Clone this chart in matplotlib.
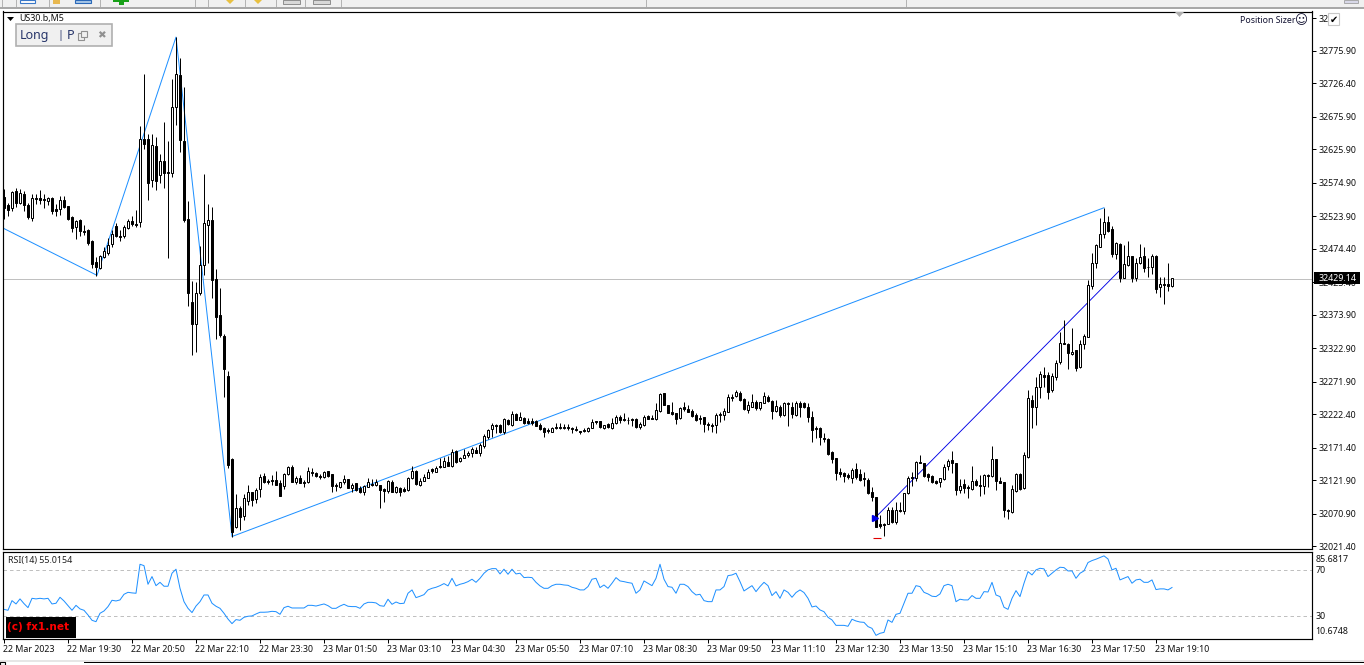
import numpy as np
import matplotlib
matplotlib.use("Agg")
import matplotlib.pyplot as plt
from matplotlib.patches import Rectangle, Polygon
from matplotlib.transforms import ScaledTranslation

# US30.b M5 candles, points above 32000
base = 32000
opens = [553,541,537,562,544,558,541,521,552,552,
         550,547,552,535,535,549,540,523,508,518,
         502,503,486,454,445,462,468,482,509,494,
         494,506,517,512,515,642,642,579,631,587,
         608,591,590,691,739,639,520,393,360,407,
         450,511,518,428,374,342,281,154,50,79,
         67,90,104,93,108,128,121,122,122,117,
         113,131,142,119,125,119,119,134,133,128,
         127,136,131,114,111,119,124,110,117,110,
         104,111,116,114,114,108,105,119,104,110,
         108,107,125,136,114,121,125,139,134,143,
         142,150,143,166,151,156,160,163,168,163,
         174,188,200,206,206,195,214,206,223,214,
         217,212,212,212,206,201,198,195,203,203,
         203,203,201,200,197,198,197,201,212,212,
         201,207,201,209,218,215,214,215,215,203,
         206,220,217,215,227,255,236,226,224,217,
         233,230,227,221,217,218,207,206,206,221,
         221,226,249,250,255,246,229,233,241,232,
         239,249,242,227,233,221,239,233,221,239,
         239,233,218,201,201,186,185,165,156,134,
         133,130,125,139,131,125,122,104,96,55,
         55,55,76,58,76,75,102,127,125,150,
         148,131,128,121,119,124,143,153,148,107,
         116,111,108,121,114,113,130,128,154,121,
         119,76,73,105,131,110,157,244,233,264,
         282,282,259,279,302,331,329,314,320,294,
         329,340,418,453,477,497,515,505,467,482,
         430,450,463,430,453,463,447,447,463,416,
         421,421,418]
highs = [566,544,562,567,566,562,544,558,558,564,
         558,553,553,543,555,555,540,524,518,520,
         511,505,488,462,465,477,491,503,514,503,
         511,520,524,534,662,741,649,649,645,619,
         668,639,733,797,765,721,547,425,424,479,
         588,543,538,444,415,345,288,156,101,82,
         101,114,104,110,131,133,124,130,136,122,
         133,143,145,128,130,122,142,140,134,131,
         136,136,131,117,119,130,124,117,117,113,
         114,125,124,124,114,110,122,122,113,111,
         111,127,143,137,125,131,139,140,143,156,
         157,159,169,168,157,169,166,172,172,178,
         192,200,209,207,207,217,215,227,224,226,
         218,217,217,214,209,203,201,203,209,209,
         207,207,203,204,197,201,203,215,212,212,
         206,209,217,221,221,224,218,217,217,210,
         221,221,221,239,255,255,236,241,224,233,
         241,236,230,224,221,218,210,209,224,226,
         232,253,253,259,258,247,242,253,244,241,
         256,252,244,244,236,241,241,241,242,242,
         241,239,227,204,203,194,186,166,156,140,
         134,133,140,148,139,134,125,111,96,69,
         57,81,81,88,88,102,128,134,151,160,
         148,133,130,122,125,146,154,166,148,124,
         124,114,143,124,130,131,131,174,154,127,
         119,78,114,133,133,165,259,252,279,288,
         294,287,285,305,348,366,331,354,320,335,
         345,427,468,482,521,537,524,509,485,483,
         480,486,463,460,482,477,460,467,465,431,
         431,453,430]
lows = [520,524,532,538,543,532,520,517,543,543,
        537,541,527,524,526,537,518,500,489,494,
        495,480,445,433,444,460,465,477,492,486,
        491,505,509,508,508,627,549,569,564,575,
        567,460,584,663,622,515,387,313,317,404,
        434,453,399,337,340,249,140,35,49,46,
        61,84,82,87,96,117,116,114,114,98,
        108,130,119,116,117,111,117,128,127,124,
        125,127,104,105,110,116,110,104,105,102,
        99,111,113,113,79,88,102,104,102,98,
        104,105,124,114,113,121,125,133,134,140,
        142,143,142,148,150,156,157,157,163,159,
        171,185,188,194,194,192,206,204,214,214,
        207,207,206,204,198,188,194,195,200,200,
        200,198,194,197,192,195,195,201,207,201,
        200,201,200,207,209,212,207,204,201,200,
        204,215,215,214,226,236,224,221,207,215,
        227,226,218,212,207,195,198,195,194,210,
        214,226,242,249,242,229,224,233,229,229,
        239,241,215,226,218,220,204,217,220,218,
        232,210,180,186,175,180,160,148,122,127,
        119,124,117,124,121,113,101,90,50,49,
        37,55,57,55,73,70,101,113,121,148,
        127,121,117,116,111,122,137,133,99,102,
        102,95,107,113,98,101,111,127,107,117,
        66,63,72,104,107,108,156,201,206,247,
        264,246,256,275,299,329,291,313,288,293,
        322,340,413,445,477,491,500,462,459,424,
        430,448,424,425,451,439,431,436,407,401,
        390,410,416]
closes = [537,534,561,544,559,541,523,552,550,549,
          549,552,532,532,549,538,520,506,517,502,
          500,483,451,447,463,471,480,497,494,492,
          508,517,512,511,642,634,575,633,578,608,
          590,590,691,741,640,518,407,360,407,450,
          514,518,427,371,343,291,145,43,79,66,
          95,104,92,107,127,119,119,121,114,98,
          131,142,119,125,117,118,136,133,128,127,
          134,128,113,113,119,124,110,114,107,104,
          113,119,114,119,107,105,121,104,111,104,
          105,125,136,116,121,127,134,136,140,142,
          151,143,165,150,156,160,163,169,163,175,
          189,198,206,204,195,215,207,223,214,218,
          209,209,209,204,200,195,197,201,201,201,
          201,202,200,198,196,197,201,210,210,203,
          206,203,209,218,214,214,213,214,203,207,
          218,215,215,229,253,236,224,223,215,232,
          230,226,220,214,215,207,206,205,221,223,
          227,249,247,256,244,230,236,241,232,241,
          250,242,227,235,221,239,238,223,239,233,
          233,218,198,200,188,185,162,154,133,131,
          128,127,137,127,122,124,102,96,50,52,
          54,76,58,76,75,102,125,125,150,148,
          128,127,119,117,125,142,151,148,107,113,
          110,110,121,114,113,130,128,154,121,117,
          76,75,108,131,108,160,247,233,264,284,
          279,256,281,300,331,329,316,317,293,329,
          342,419,453,480,497,515,502,467,483,430,
          451,463,430,453,462,445,446,463,413,421,
          420,418,430]

rsi = [36.0,35.2,43.6,40.7,45.1,41.0,37.5,45.6,45.1,45.6,
       45.1,45.6,40.7,41.3,46.5,43.3,39.2,35.2,39.5,36.4,
       35.2,31.1,26.5,25.3,32.6,34.6,38.4,43.9,43.3,44.2,
       49.1,50.8,50.3,50.0,75.2,74.0,57.8,64.5,56.6,59.5,
       56.1,56.1,67.4,70.9,54.3,42.7,36.9,33.2,38.9,42.7,
       48.5,48.5,41.3,38.7,36.9,32.6,27.6,23.6,27.1,26.5,
       29.1,30.0,30.3,32.0,33.5,33.5,33.7,34.3,34.0,31.7,
       37.5,38.7,37.2,37.2,37.2,37.2,39.5,39.5,38.9,39.8,
       40.7,39.2,36.9,36.9,38.9,40.4,38.7,38.4,38.4,36.9,
       40.7,42.1,42.1,41.6,39.2,38.7,44.8,40.4,42.4,41.0,
       41.3,50.0,52.9,46.2,47.4,48.8,52.9,54.3,55.2,56.6,
       58.4,56.4,63.0,56.4,57.8,58.7,60.1,62.2,59.5,63.0,
       67.4,70.3,71.4,71.4,66.8,70.9,66.5,70.9,66.8,67.4,
       63.6,63.9,63.6,59.5,56.4,54.3,54.3,56.6,57.8,57.8,
       57.2,56.9,55.2,54.3,52.9,52.9,55.8,62.2,63.0,54.9,
       57.2,54.3,58.7,63.6,60.7,60.1,59.3,58.7,50.0,52.9,
       60.7,58.7,56.6,63.0,75.2,62.2,55.8,55.2,50.0,57.8,
       57.8,55.8,51.4,48.5,49.1,43.6,42.7,42.7,52.9,52.9,
       55.8,65.3,65.9,67.4,60.1,52.0,54.3,56.6,51.4,55.8,
       59.5,56.6,48.0,51.4,45.6,52.9,50.8,46.5,50.6,52.9,
       50.6,45.6,38.1,38.9,35.5,34.0,29.1,26.8,22.1,22.1,
       22.1,21.3,27.4,25.9,25.0,24.7,21.0,19.5,13.4,15.2,
       16.0,26.8,24.7,31.7,32.6,41.3,50.0,50.0,56.6,55.8,
       50.8,49.4,47.4,47.1,49.4,56.6,57.8,56.6,42.7,44.8,
       44.2,44.2,48.0,45.6,45.6,51.4,51.1,59.5,48.5,47.1,
       37.8,36.0,45.6,52.3,47.1,58.7,68.8,65.9,70.3,71.7,
       71.2,64.5,67.4,70.3,72.6,72.3,69.4,69.4,63.0,67.4,
       69.4,76.7,78.4,79.6,81.0,82.5,79.8,70.3,71.7,61.6,
       63.0,64.5,58.7,61.6,62.2,59.5,59.5,61.6,53.2,53.8,
       53.8,52.9,55.0]

# zigzag indicator and the trade arrows
zigzag_bars = [0.75, 24.25, 44, 58, 276]
zigzag_prices = [32506, 32434, 32797, 32036, 32537]
trade_bars = [219, 280]
trade_prices = [32066, 32442]
entry_bar, entry_price = 218.7, 32064
stop_bar, stop_price = 219.2, 32034
last_price = 32429.14

price_ticks = [32825.40, 32775.90, 32726.40, 32675.90, 32625.90, 32574.90, 32523.90, 32474.40,
               32423.40, 32373.90, 32322.90, 32271.90, 32222.40, 32171.40, 32121.90, 32070.90, 32021.40]
price_labels = ["32", "32775.90", "32726.40", "32675.90", "32625.90", "32574.90", "32523.90", "32474.40",
                "32423.40", "32373.90", "32322.90", "32271.90", "32222.40", "32171.40", "32121.90", "32070.90", "32021.40"]
time_labels = ["22 Mar 2023", "22 Mar 19:30", "22 Mar 20:50", "22 Mar 22:10", "22 Mar 23:30",
               "23 Mar 01:50", "23 Mar 03:10", "23 Mar 04:30", "23 Mar 05:50", "23 Mar 07:10",
               "23 Mar 08:30", "23 Mar 09:50", "23 Mar 11:10", "23 Mar 12:30", "23 Mar 13:50",
               "23 Mar 15:10", "23 Mar 16:30", "23 Mar 17:50", "23 Mar 19:10"]
rsi_ticks = [85.6817, 70, 30, 10.6748]
rsi_labels = ["85.6817", "70", "30", "10.6748"]

W, H = 1364, 665
font = "Noto Sans"
plt.rcParams["font.family"] = [font, "DejaVu Sans"]
plt.rcParams["font.size"] = 6.4
fig = plt.figure(figsize=(W / 100, H / 100), dpi=100, facecolor="white")


def axes_px(x0, y0, x1, y1):
    return fig.add_axes([x0 / W, 1 - y1 / H, (x1 - x0) / W, (y1 - y0) / H])


def rect_px(x0, y0, x1, y1, **kw):
    fig.add_artist(Rectangle((x0 / W, 1 - y1 / H), (x1 - x0) / W, (y1 - y0) / H,
                             transform=fig.transFigure, **kw))


def text_px(x, y, s, **kw):
    kw.setdefault("va", "center")
    fig.text(x / W, 1 - y / H, s, **kw)


def poly_px(points, **kw):
    pts = [(x / W, 1 - y / H) for x, y in points]
    fig.add_artist(Polygon(pts, transform=fig.transFigure, **kw))


bars = np.arange(1, len(opens) + 1)
o = base + np.array(opens)
h = base + np.array(highs)
l = base + np.array(lows)
c = base + np.array(closes)
x_left, x_right = 3, 1312
xlim = (x_left / 4, x_right / 4)

# price panel
ax = axes_px(x_left, 11.5, x_right, 549)
ax.set_xlim(xlim)
ax.set_ylim(32017, 32836)
ax.plot(zigzag_bars, zigzag_prices, color="#1e90ff", lw=0.72, zorder=2)
ax.axhline(last_price, color="#c0c0c0", lw=0.72, zorder=1)
ax.plot(trade_bars, trade_prices, color="#0000e6", lw=0.65, zorder=2)
ax.vlines(bars, l, h, color="black", lw=0.72, zorder=3)
up = c >= o
ax.bar(bars[up], (c - o)[up], bottom=o[up], width=0.5, facecolor="white", edgecolor="black",
       lw=0.72, zorder=4)
ax.bar(bars[~up], (c - o)[~up], bottom=o[~up], width=0.5, facecolor="black", edgecolor="black",
       lw=0.72, zorder=4)
ax.plot([entry_bar], [entry_price], marker=">", color="#0000e6", ms=3.8, zorder=5)
ax.plot([stop_bar], [stop_price], marker="_", color="#e00000", ms=6, mew=0.8, zorder=5)
ax.set_xticks([])
ax.yaxis.tick_right()
ax.set_yticks(price_ticks, price_labels)
ax.tick_params(axis="y", length=3, width=0.72, pad=2, labelsize=6.4, labelcolor="#101010")
for s in ax.spines.values():
    s.set_linewidth(0.85)

# RSI panel
ax2 = axes_px(x_left, 552.2, x_right, 638.5)
ax2.set_xlim(xlim)
ax2.set_ylim(10.6748, 85.6817)
for lev in [70, 30]:
    ax2.axhline(lev, color="#c0c0c0", lw=0.72, dashes=(3.5, 3))
ax2.plot(bars, rsi, color="#1e90ff", lw=0.72)
ax2.yaxis.tick_right()
ax2.set_yticks(rsi_ticks, rsi_labels)
ax2.tick_params(axis="y", length=0, pad=2.5, labelsize=6.4, labelcolor="#101010")
# the outer RSI labels sit inside the panel, not on their level
nudges = [-3, 0, 0, 3]
for lab, va, dy in zip(ax2.get_yticklabels(), ["top", "center", "center", "bottom"], nudges):
    lab.set_va(va)
    lab.set_transform(lab.get_transform() + ScaledTranslation(0, dy / 100, fig.dpi_scale_trans))
time_ticks = bars[::16]
ax2.set_xticks(time_ticks, time_labels)
ax2.tick_params(axis="x", length=3, width=0.72, pad=2, labelsize=6.4, labelcolor="#101010")
for lab in ax2.get_xticklabels():
    lab.set_ha("left")
    lab.set_transform(lab.get_transform() + ScaledTranslation(-1 / 100, 0, fig.dpi_scale_trans))
for s in ax2.spines.values():
    s.set_linewidth(0.85)
text_px(8, 560.5, "RSI(14) 55.0154", color="#202020", fontsize=6.4)

# copyright stamp
rect_px(6, 617, 76, 638, facecolor="black", edgecolor="none", zorder=6)
text_px(7, 627.5, "(c) fx1.net", color="#ff0000", fontsize=7.6, fontweight="bold",
        family="DejaVu Sans", zorder=7)

# chart caption and panels on top of the price chart
poly_px([(7, 17), (14, 17), (10.5, 21)], facecolor="black", edgecolor="none", zorder=6)
text_px(19, 19, "US30.b,M5", color="#101010", fontsize=6.4, zorder=6)
rect_px(15.5, 24, 112, 46, facecolor="#f0f0f0", edgecolor="#b0b0b0", lw=1.2, zorder=6)
text_px(20, 35.5, "Long", color="#27356a", fontsize=9, zorder=7)
text_px(57.5, 35.5, "|", color="#27356a", fontsize=8, zorder=7)
text_px(67, 35.5, "P", color="#27356a", fontsize=9, zorder=7)
rect_px(77.5, 33, 84, 39.5, facecolor="none", edgecolor="#909090", lw=0.8, zorder=7)
rect_px(81, 31, 86.5, 36.5, facecolor="#f0f0f0", edgecolor="#909090", lw=0.8, zorder=7)
text_px(101, 35, "\u2716", color="#909090", fontsize=7.5, ha="center", family="DejaVu Sans", zorder=7)
poly_px([(1175, 12), (1184, 12), (1179.5, 17)], facecolor="#b0b0b0", edgecolor="none", zorder=6)
text_px(1240, 20.5, "Position Sizer", color="#101030", fontsize=6.3, zorder=6)
text_px(1301, 20.5, "\u263a", color="#101030", fontsize=9, ha="center", family="DejaVu Sans", zorder=6)

# last price flag and the check box on the scale
rect_px(1314, 272.5, 1360, 284, facecolor="black", edgecolor="none", zorder=6)
text_px(1318.5, 278.3, f"{last_price:.2f}", color="white", fontsize=6.4, zorder=7)
rect_px(1327.5, 13.5, 1339, 25, facecolor="white", edgecolor="#c8c8c8", lw=0.8, zorder=6)
text_px(1333.5, 19.5, "\u2714", color="black", fontsize=7, ha="center", family="DejaVu Sans", zorder=7)

# terminal toolbar above, tab strip below
rect_px(0, 0, W, 7.5, facecolor="#f0f0f0", edgecolor="none", zorder=8)
rect_px(0, 7.5, W, 9, facecolor="#a8a8a8", edgecolor="none", zorder=8)
for xs in [2, 16, 49, 100, 195, 208, 245, 276, 305, 341, 646, 906]:
    rect_px(xs, 0, xs + 1, 7, facecolor="#b4b4b4", edgecolor="none", zorder=9)
rect_px(20, 0, 35, 3, facecolor="white", edgecolor="#3a78c8", lw=0.8, zorder=9)
rect_px(53, 0, 60, 4, facecolor="#e8b850", edgecolor="none", zorder=9)
rect_px(75, 0, 91, 3, facecolor="#a8c8e8", edgecolor="#2a68b8", lw=0.8, zorder=9)
rect_px(118.5, 0, 123.5, 5, facecolor="#18a018", edgecolor="none", zorder=9)
rect_px(113, 0, 129, 2, facecolor="#18a018", edgecolor="none", zorder=9)
for xs in [230, 258]:
    poly_px([(xs - 4, 0), (xs + 4, 0), (xs, 4)], facecolor="#e8c040", edgecolor="none", zorder=9)
for xs in [283, 313]:
    rect_px(xs, 0, xs + 17, 4, facecolor="#d8d8d8", edgecolor="#808080", lw=0.6, zorder=9)
rect_px(1344, 0, 1358, 3, facecolor="#d8d8e8", edgecolor="#a0a0a0", lw=0.6, zorder=9)
rect_px(0, 660, W, 662, facecolor="#e6e6e6", edgecolor="none", zorder=8)
rect_px(84, 662.2, W, 663.2, facecolor="black", edgecolor="none", zorder=8)
rect_px(0, 662.2, 5, 665, facecolor="none", edgecolor="black", lw=0.8, zorder=8)

fig.savefig("out.png", dpi=100, facecolor=fig.get_facecolor())
